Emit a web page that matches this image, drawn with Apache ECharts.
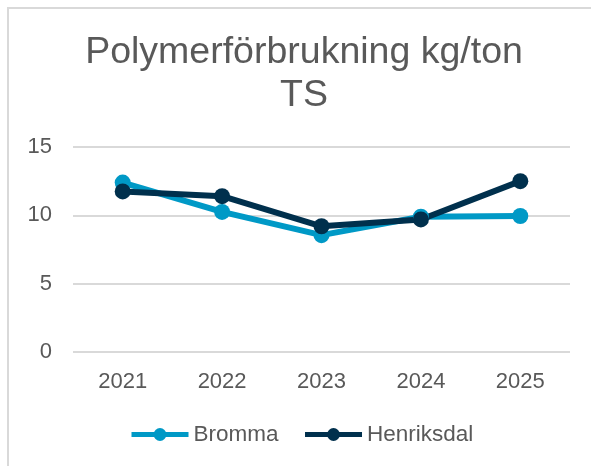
<!DOCTYPE html>
<html>
<head>
<meta charset="utf-8">
<script src="https://cdn.jsdelivr.net/npm/echarts@6/dist/echarts.min.js"></script>
<style>
    html, body { margin: 0; padding: 0; background: #fff; }
    #main { width: 591px; height: 466px; }
</style>
</head>
<body>
<div id="main"></div>
<script>
// data
let years = ['2021', '2022', '2023', '2024', '2025'];
let bromma = [12.4, 10.25, 8.55, 9.9, 9.95];
let henriksdal = [11.75, 11.4, 9.2, 9.7, 12.5];
let yTicks = [0, 5, 10, 15];

let textColor = '#595959';
let myChart = echarts.init(document.getElementById('main'));

let option = {
    backgroundColor: '#fff',
    animation: false,
    title: {
        text: 'Polymerförbrukning kg/ton\nTS',
        left: 299,
        top: 26,
        textAlign: 'center',
        textStyle: {
            fontFamily: 'Liberation Sans',
            fontWeight: 'normal',
            fontSize: 37.5,
            lineHeight: 43,
            color: textColor
        }
    },
    graphic: [
        {
            type: 'rect',
            shape: { x: 8, y: 8, width: 700, height: 600 },
            style: { fill: 'none', stroke: '#d9d9d9', lineWidth: 2 },
            silent: true
        }
    ],
    legend: {
        data: ['Bromma', 'Henriksdal'],
        left: 124,
        top: 418,
        itemWidth: 57,
        itemHeight: 16,
        itemGap: 24,
        lineStyle: { width: 5 },
        textStyle: {
            fontFamily: 'Liberation Sans',
            fontSize: 22.5,
            color: textColor
        }
    },
    grid: {
        left: 73,
        right: 21,
        top: 147,
        bottom: 114,
        containLabel: false
    },
    xAxis: {
        type: 'category',
        data: years,
        boundaryGap: true,
        axisLine: { show: false },
        axisTick: { show: false },
        axisLabel: {
            margin: 19,
            fontFamily: 'Liberation Sans',
            fontSize: 22,
            color: textColor
        }
    },
    yAxis: {
        type: 'value',
        min: yTicks[0],
        max: yTicks[yTicks.length - 1],
        interval: yTicks[1] - yTicks[0],
        axisLine: { show: false },
        axisTick: { show: false },
        splitLine: { lineStyle: { color: '#d9d9d9', width: 2 } },
        axisLabel: {
            margin: 21,
            fontFamily: 'Liberation Sans',
            fontSize: 22,
            color: textColor
        }
    },
    series: [
        {
            name: 'Bromma',
            type: 'line',
            data: bromma,
            symbol: 'circle',
            symbolSize: 16,
            color: '#0099c6',
            lineStyle: { width: 6, color: '#0099c6' },
            itemStyle: { color: '#0099c6' }
        },
        {
            name: 'Henriksdal',
            type: 'line',
            data: henriksdal,
            symbol: 'circle',
            symbolSize: 16,
            color: '#00304d',
            lineStyle: { width: 6, color: '#00304d' },
            itemStyle: { color: '#00304d' }
        }
    ]
};

myChart.setOption(option);
</script>
</body>
</html>
